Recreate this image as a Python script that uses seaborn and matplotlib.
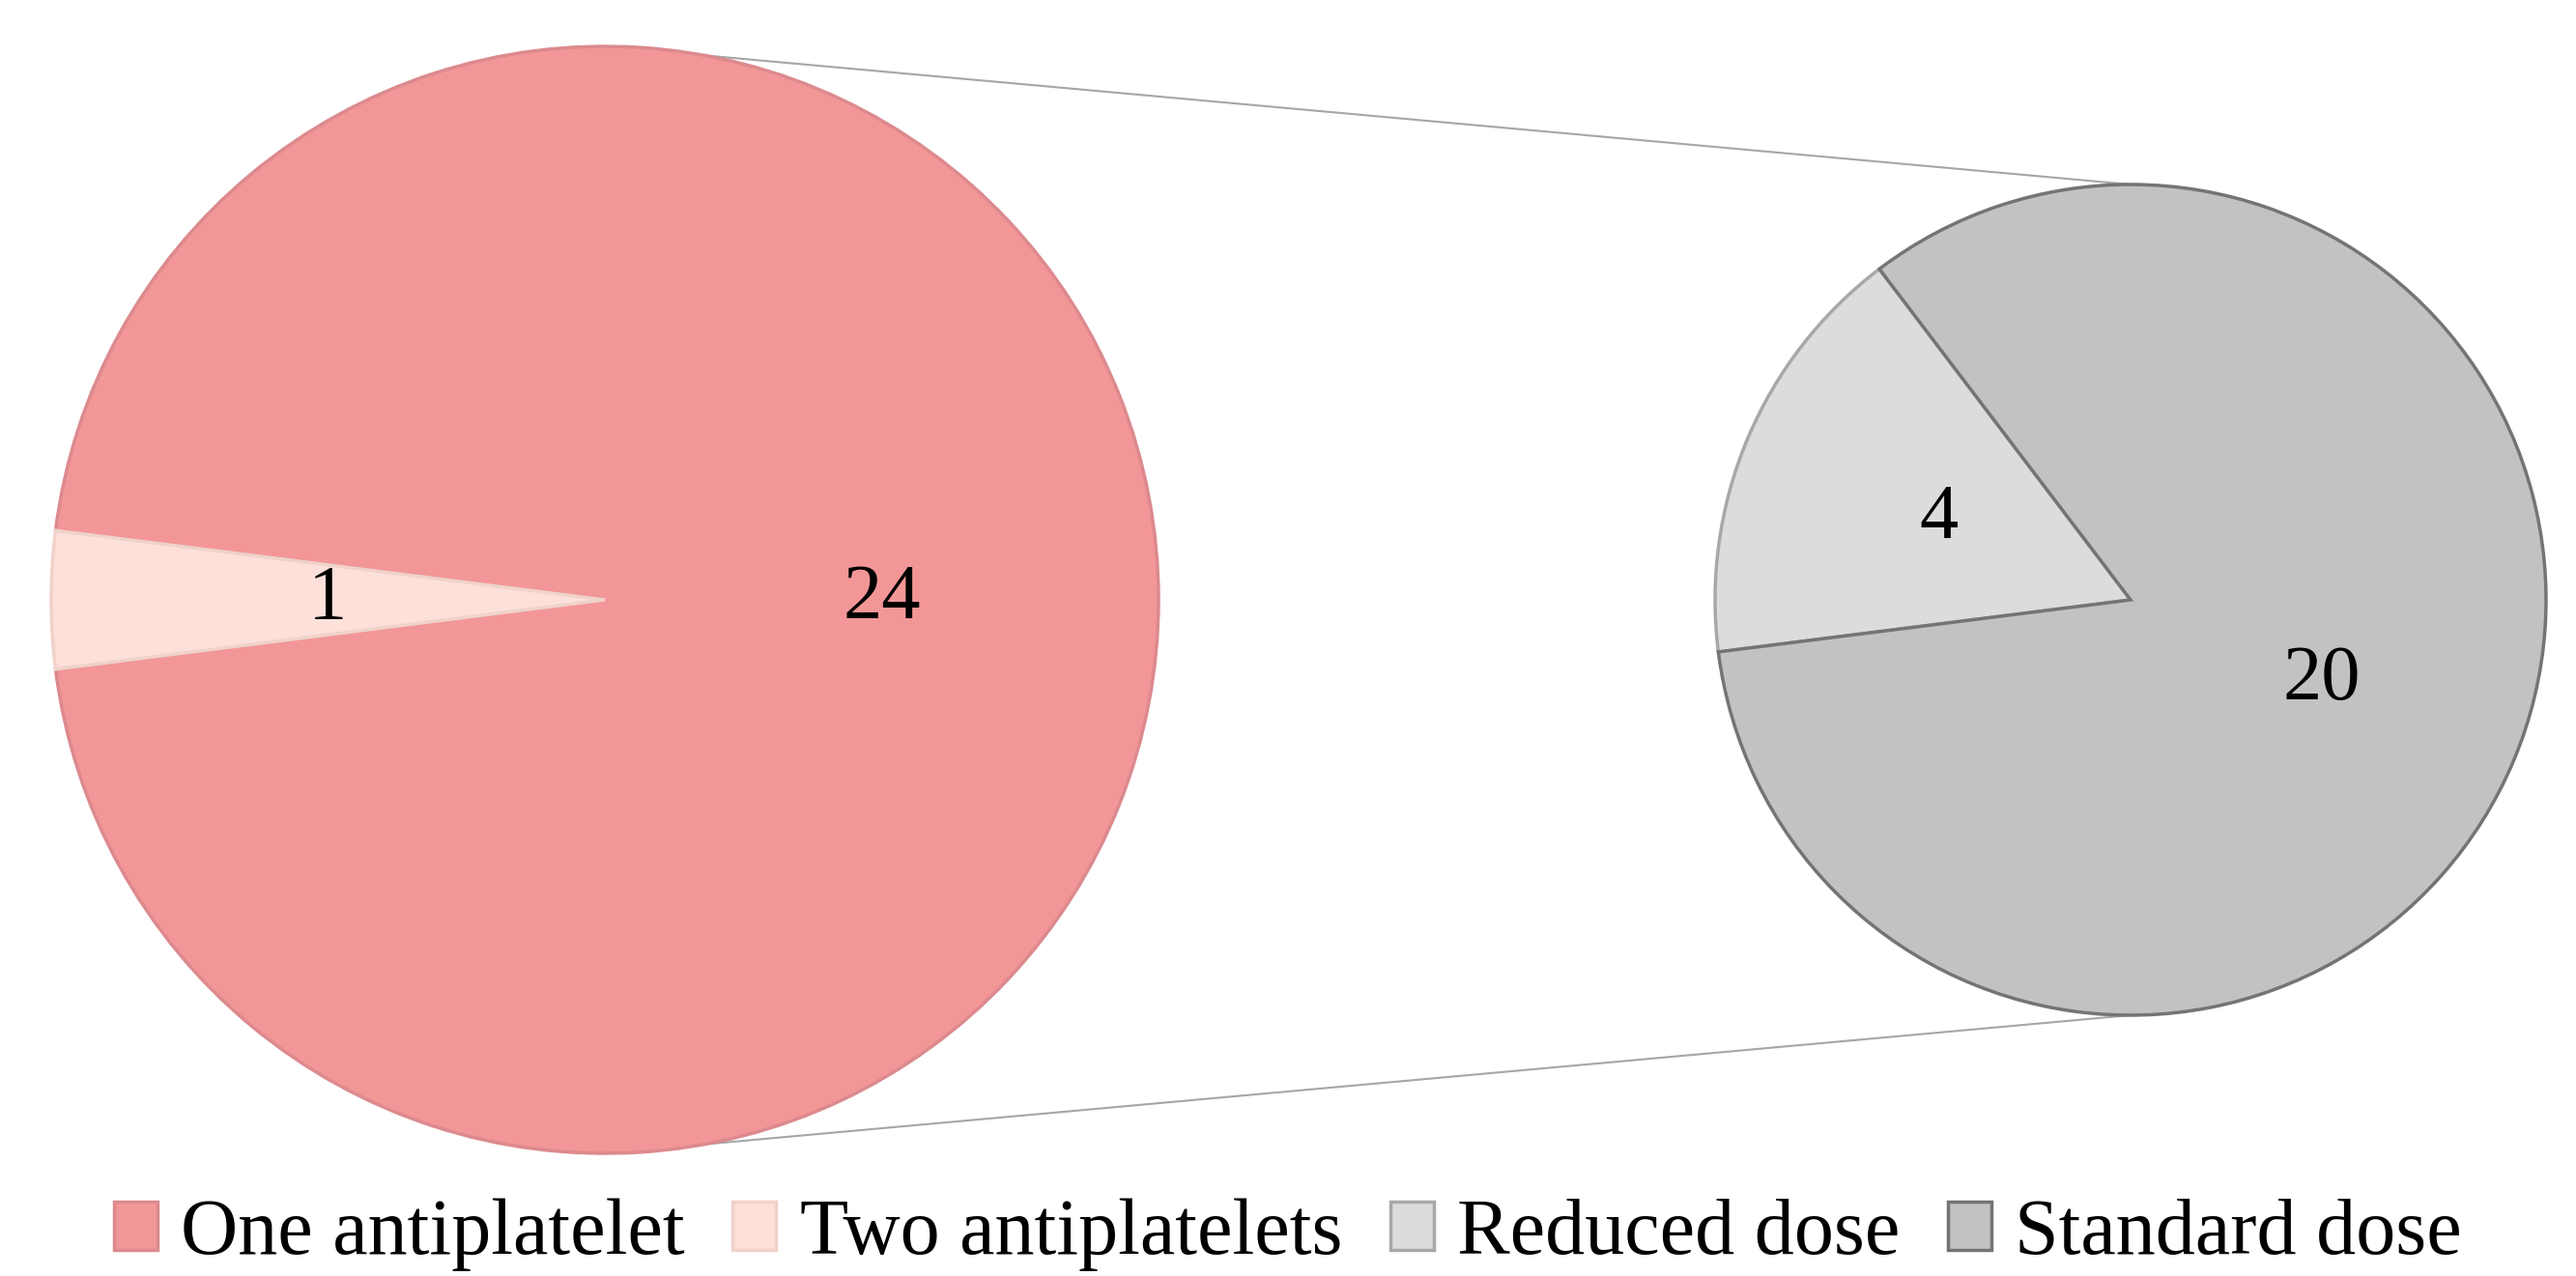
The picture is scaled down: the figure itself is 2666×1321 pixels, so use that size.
import matplotlib
matplotlib.use("Agg")
import matplotlib.pyplot as plt
import matplotlib.patches as mpatches
import seaborn as sns

# data
main_labels = ["One antiplatelet", "Two antiplatelets"]
main_values = [24, 1]
sub_labels = ["Standard dose", "Reduced dose"]
sub_values = [20, 4]
legend_order = ["One antiplatelet", "Two antiplatelets", "Reduced dose", "Standard dose"]

sns.set_theme(style="white")
plt.rcParams['font.family'] = ['Liberation Serif', 'DejaVu Serif']

fills = {"One antiplatelet": "#f39697", "Two antiplatelets": "#fce0d9",
         "Reduced dose": "#dcdcdc", "Standard dose": "#c2c2c4"}
edges = {"One antiplatelet": "#dc8a8e", "Two antiplatelets": "#f0d2ca",
         "Reduced dose": "#a8a8a8", "Standard dose": "#777373"}

W, H = 2666, 1321
fig = plt.figure(figsize=(W / 100, H / 100), dpi=100)
ax = fig.add_axes([0, 0, 1, 1])

c1, r1 = (626, 700), 573
c2, r2 = (2205, 700), 430
start = 180 + 360 * main_values[1] / sum(main_values) / 2

def draw_pie(values, labels, center, radius):
    wedges, texts = ax.pie(values, startangle=start, center=center, radius=radius,
                           colors=[fills[l] for l in labels],
                           labels=[str(v) for v in values], labeldistance=0.5,
                           textprops=dict(fontsize=58, ha='center', va='center', color='black'),
                           wedgeprops=dict(linewidth=2.5), frame=True)
    for w, l in zip(wedges, labels):
        w.set_edgecolor(edges[l])
    return wedges

draw_pie(main_values, main_labels, c1, r1)
sub_w = draw_pie(sub_values, sub_labels, c2, r2)
sub_w[0].set_zorder(3)  # darker standard-dose edge on top

ax.set_xlim(0, W)
ax.set_ylim(0, H)
ax.set_aspect('equal')
ax.axis('off')

# connector lines
ax.plot([c1[0], c2[0]], [c1[1] + r1, c2[1] + r2], color='#a6a6a6', lw=1.5, zorder=0)
ax.plot([c1[0], c2[0]], [c1[1] - r1, c2[1] - r2], color='#a6a6a6', lw=1.5, zorder=0)

handles = [mpatches.Patch(facecolor=fills[l], edgecolor=edges[l], linewidth=2.5, label=l)
           for l in legend_order]
leg = fig.legend(handles=handles, loc='lower center', bbox_to_anchor=(0.5, -0.052), ncol=4,
                 frameon=False, fontsize=59, handlelength=0.55, handleheight=0.55,
                 handletextpad=0.3, columnspacing=0.6)
for t in leg.get_texts():
    t.set_color('black')

fig.savefig('out.png', dpi=100)
